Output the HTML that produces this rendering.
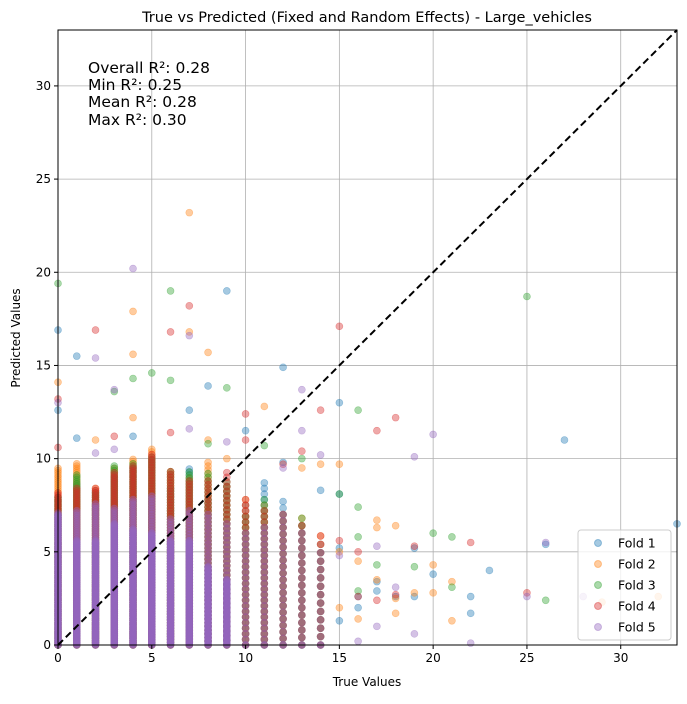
<!DOCTYPE html>
<html><head><meta charset="utf-8"><style>
body{margin:0;background:#fff;}
svg text{font-family:"DejaVu Sans","Liberation Sans",sans-serif;}
</style></head><body>
<svg id="chart" width="687" height="699" xmlns="http://www.w3.org/2000/svg">
<rect width="687" height="699" fill="#fff"/>
<g id="grid"></g>
<g id="cols"></g>
<g id="pts"></g>
<line id="diag" stroke="#000" stroke-width="2" stroke-dasharray="7,4"/>
<rect x="58" y="30" width="619" height="615" fill="none" stroke="#000" stroke-width="1"/>
<g id="ticks"></g>
<text x="367" y="22" text-anchor="middle" font-size="14.5">True vs Predicted (Fixed and Random Effects) - Large_vehicles</text>
<text x="367" y="686" text-anchor="middle" font-size="12">True Values</text>
<text x="20" y="338" text-anchor="middle" font-size="12" transform="rotate(-90 20 338)">Predicted Values</text>
<g font-size="15.5">
<text x="88" y="73">Overall R²: 0.28</text>
<text x="88" y="90">Min R²: 0.25</text>
<text x="88" y="107">Mean R²: 0.28</text>
<text x="88" y="125">Max R²: 0.30</text>
</g>
<g id="legend"></g>
</svg>
<script>
const categories=["Fold 1","Fold 2","Fold 3","Fold 4","Fold 5"];
const colors=["#1f77b4","#ff7f0e","#2ca02c","#d62728","#9467bd"];
const colX=[0,1,2,3,4,5,6,7,8,9,10,11,12,13,14];
const colSpacing=[0.12,0.12,0.12,0.12,0.12,0.14,0.15,0.16,0.2,0.25,0.3,0.3,0.35,0.4,0.45];
const top1=[8,8.7,8.4,9,9.5,10,8.5,9.5,8,8.6,7.6,8.7,8,6.8,5.8];
const top2=[9.5,9.8,8.5,9.5,10,10.6,9.4,9,9.8,8.5,8,7.5,7.3,7.1,6];
const top3=[8,9.2,8.2,9.6,9.8,10.2,9.4,9.3,9.2,8.8,7,8,7.2,7,5.4];
const top4=[8.2,8.5,8.5,9.3,9.6,10.3,9.4,8.9,8.9,9.4,8,7.2,7.2,6.5,6.2];
const top5=[7.2,7.3,7.6,7.4,7.9,8.1,6.8,7.3,7.2,6.6,6,6.3,7.1,6.3,5.4];
const core5=[7,5.6,5.6,6.5,6.2,6,5.6,5.6,4.2,3.5,0,0,0,0,0];
const tops=[top1,top2,top3,top4,top5];
const outX1=[0,0,1,1,4,7,8,9,10,12,12,14,15,15,15,15,16,16,17,17,18,19,19,20,22,22,23,26,27,33];
const outY1=[16.9,12.6,15.5,11.1,11.2,12.6,13.9,19,11.5,14.9,9.8,8.3,13,8.1,5.2,1.3,2.6,2,2.9,3.4,2.6,5.2,2.6,3.8,2.6,1.7,4,5.4,11,6.5];
const outX2=[0,2,4,4,4,7,7,8,8,9,11,13,14,15,15,15,16,16,17,17,17,18,18,18,19,20,20,21,21,29,32];
const outY2=[14.1,11,17.9,15.6,12.2,23.2,16.8,15.7,11,10,12.8,9.5,9.7,9.7,5,2,1.4,4.5,6.7,6.3,3.5,6.4,1.7,2.5,2.8,4.3,2.8,3.4,1.3,2.3,2.6];
const outX3=[0,3,4,5,6,6,8,9,11,13,15,16,16,16,16,17,19,20,21,21,25,26];
const outY3=[19.4,13.6,14.3,14.6,14.2,19,10.8,13.8,10.7,10,8.1,12.6,7.4,5.8,2.9,4.3,4.2,6,5.8,3.1,18.7,2.4];
const outX4=[0,0,2,3,6,6,7,10,10,12,13,14,15,15,16,16,17,17,18,18,19,22,25];
const outY4=[13.2,10.6,16.9,11.2,16.8,11.4,18.2,12.4,11,9.7,10.4,12.6,17.1,5.6,5,2.6,11.5,2.4,12.2,2.7,5.3,5.5,2.8];
const outX5=[0,2,2,3,3,4,7,7,9,12,13,13,14,15,16,17,17,18,19,19,20,22,25,26,28];
const outY5=[13,15.4,10.3,13.7,10.5,20.2,16.6,11.6,10.9,9.5,13.7,11.5,10.2,4.8,0.2,5.3,1,3.1,0.6,10.1,11.3,0.1,2.6,5.5,2.6];
const outXs=[outX1,outX2,outX3,outX4,outX5];
const outYs=[outY1,outY2,outY3,outY4,outY5];
const xTicks=[0,5,10,15,20,25,30];
const yTicks=[0,5,10,15,20,25,30];
const domainMax=33;

const NS="http://www.w3.org/2000/svg";
const L=58,R=677,T=30,B=645;
const sx=v=>L+v/domainMax*(R-L);
const sy=v=>B-v/domainMax*(B-T);
function mk(tag,attrs,parent){const e=document.createElementNS(NS,tag);for(const k in attrs)e.setAttribute(k,attrs[k]);parent.appendChild(e);return e;}
const grid=document.getElementById('grid'),ticks=document.getElementById('ticks');
xTicks.forEach(t=>{
 const g=mk('line',{x1:sx(t),x2:sx(t),y1:T,y2:B,stroke:'#b0b0b0','stroke-width':0.8},grid);
 
 
 const tk=mk('line',{x1:sx(t),x2:sx(t),y1:B,y2:B+4,stroke:'#000'},ticks);
 
 
 const tx=mk('text',{x:sx(t),y:B+17,'text-anchor':'middle','font-size':12},ticks);
 tx.textContent=t;
 
 
});
yTicks.forEach(t=>{
 const g=mk('line',{x1:L,x2:R,y1:sy(t),y2:sy(t),stroke:'#b0b0b0','stroke-width':0.8},grid);
 
 
 const tk=mk('line',{x1:L-4,x2:L,y1:sy(t),y2:sy(t),stroke:'#000'},ticks);
 
 
 const tx=mk('text',{x:L-7,y:sy(t)+4,'text-anchor':'end','font-size':12},ticks);
 tx.textContent=t;
 
 
});
const cols=document.getElementById('cols'),pts=document.getElementById('pts');
function dot(x,y,f,parent,name){
 const c=mk('circle',{cx:sx(x),cy:sy(y),r:3.5,fill:colors[f],'fill-opacity':0.4,stroke:colors[f],'stroke-opacity':0.4,'stroke-width':0.6},parent);
 
 
}
tops.forEach((tp,f)=>{
 colX.forEach((x,i)=>{
  for(let y=0;y<=tp[i];y+=colSpacing[i]) dot(x,y,f,cols,'point-'+(f+1));
 });
});
colX.forEach((x,i)=>{
 for(let y=0;y<=core5[i];y+=0.05) dot(x,y,4,cols,'point-5');
});
outXs.forEach((xs,f)=>{
 xs.forEach((x,i)=>dot(x,outYs[f][i],f,pts,'outlier-point-'+(f+1)));
});
const d=document.getElementById('diag');
d.setAttribute('x1',sx(0));d.setAttribute('y1',sy(0));d.setAttribute('x2',sx(domainMax));d.setAttribute('y2',sy(domainMax));
const lg=document.getElementById('legend');
const box=mk('rect',{x:578,y:530,width:93,height:110,rx:3,fill:'#fff','fill-opacity':0.8,stroke:'#ccc'},lg);


categories.forEach((c,i)=>{
 const y=543+i*21;
 const m=mk('circle',{cx:598,cy:y,r:3.5,fill:colors[i],'fill-opacity':0.4,stroke:colors[i],'stroke-opacity':0.4},lg);
 
 
 const t=mk('text',{x:618,y:y+4.5,'font-size':12.5},lg);
 t.textContent=c;
 
 
});
</script>
</body></html>
